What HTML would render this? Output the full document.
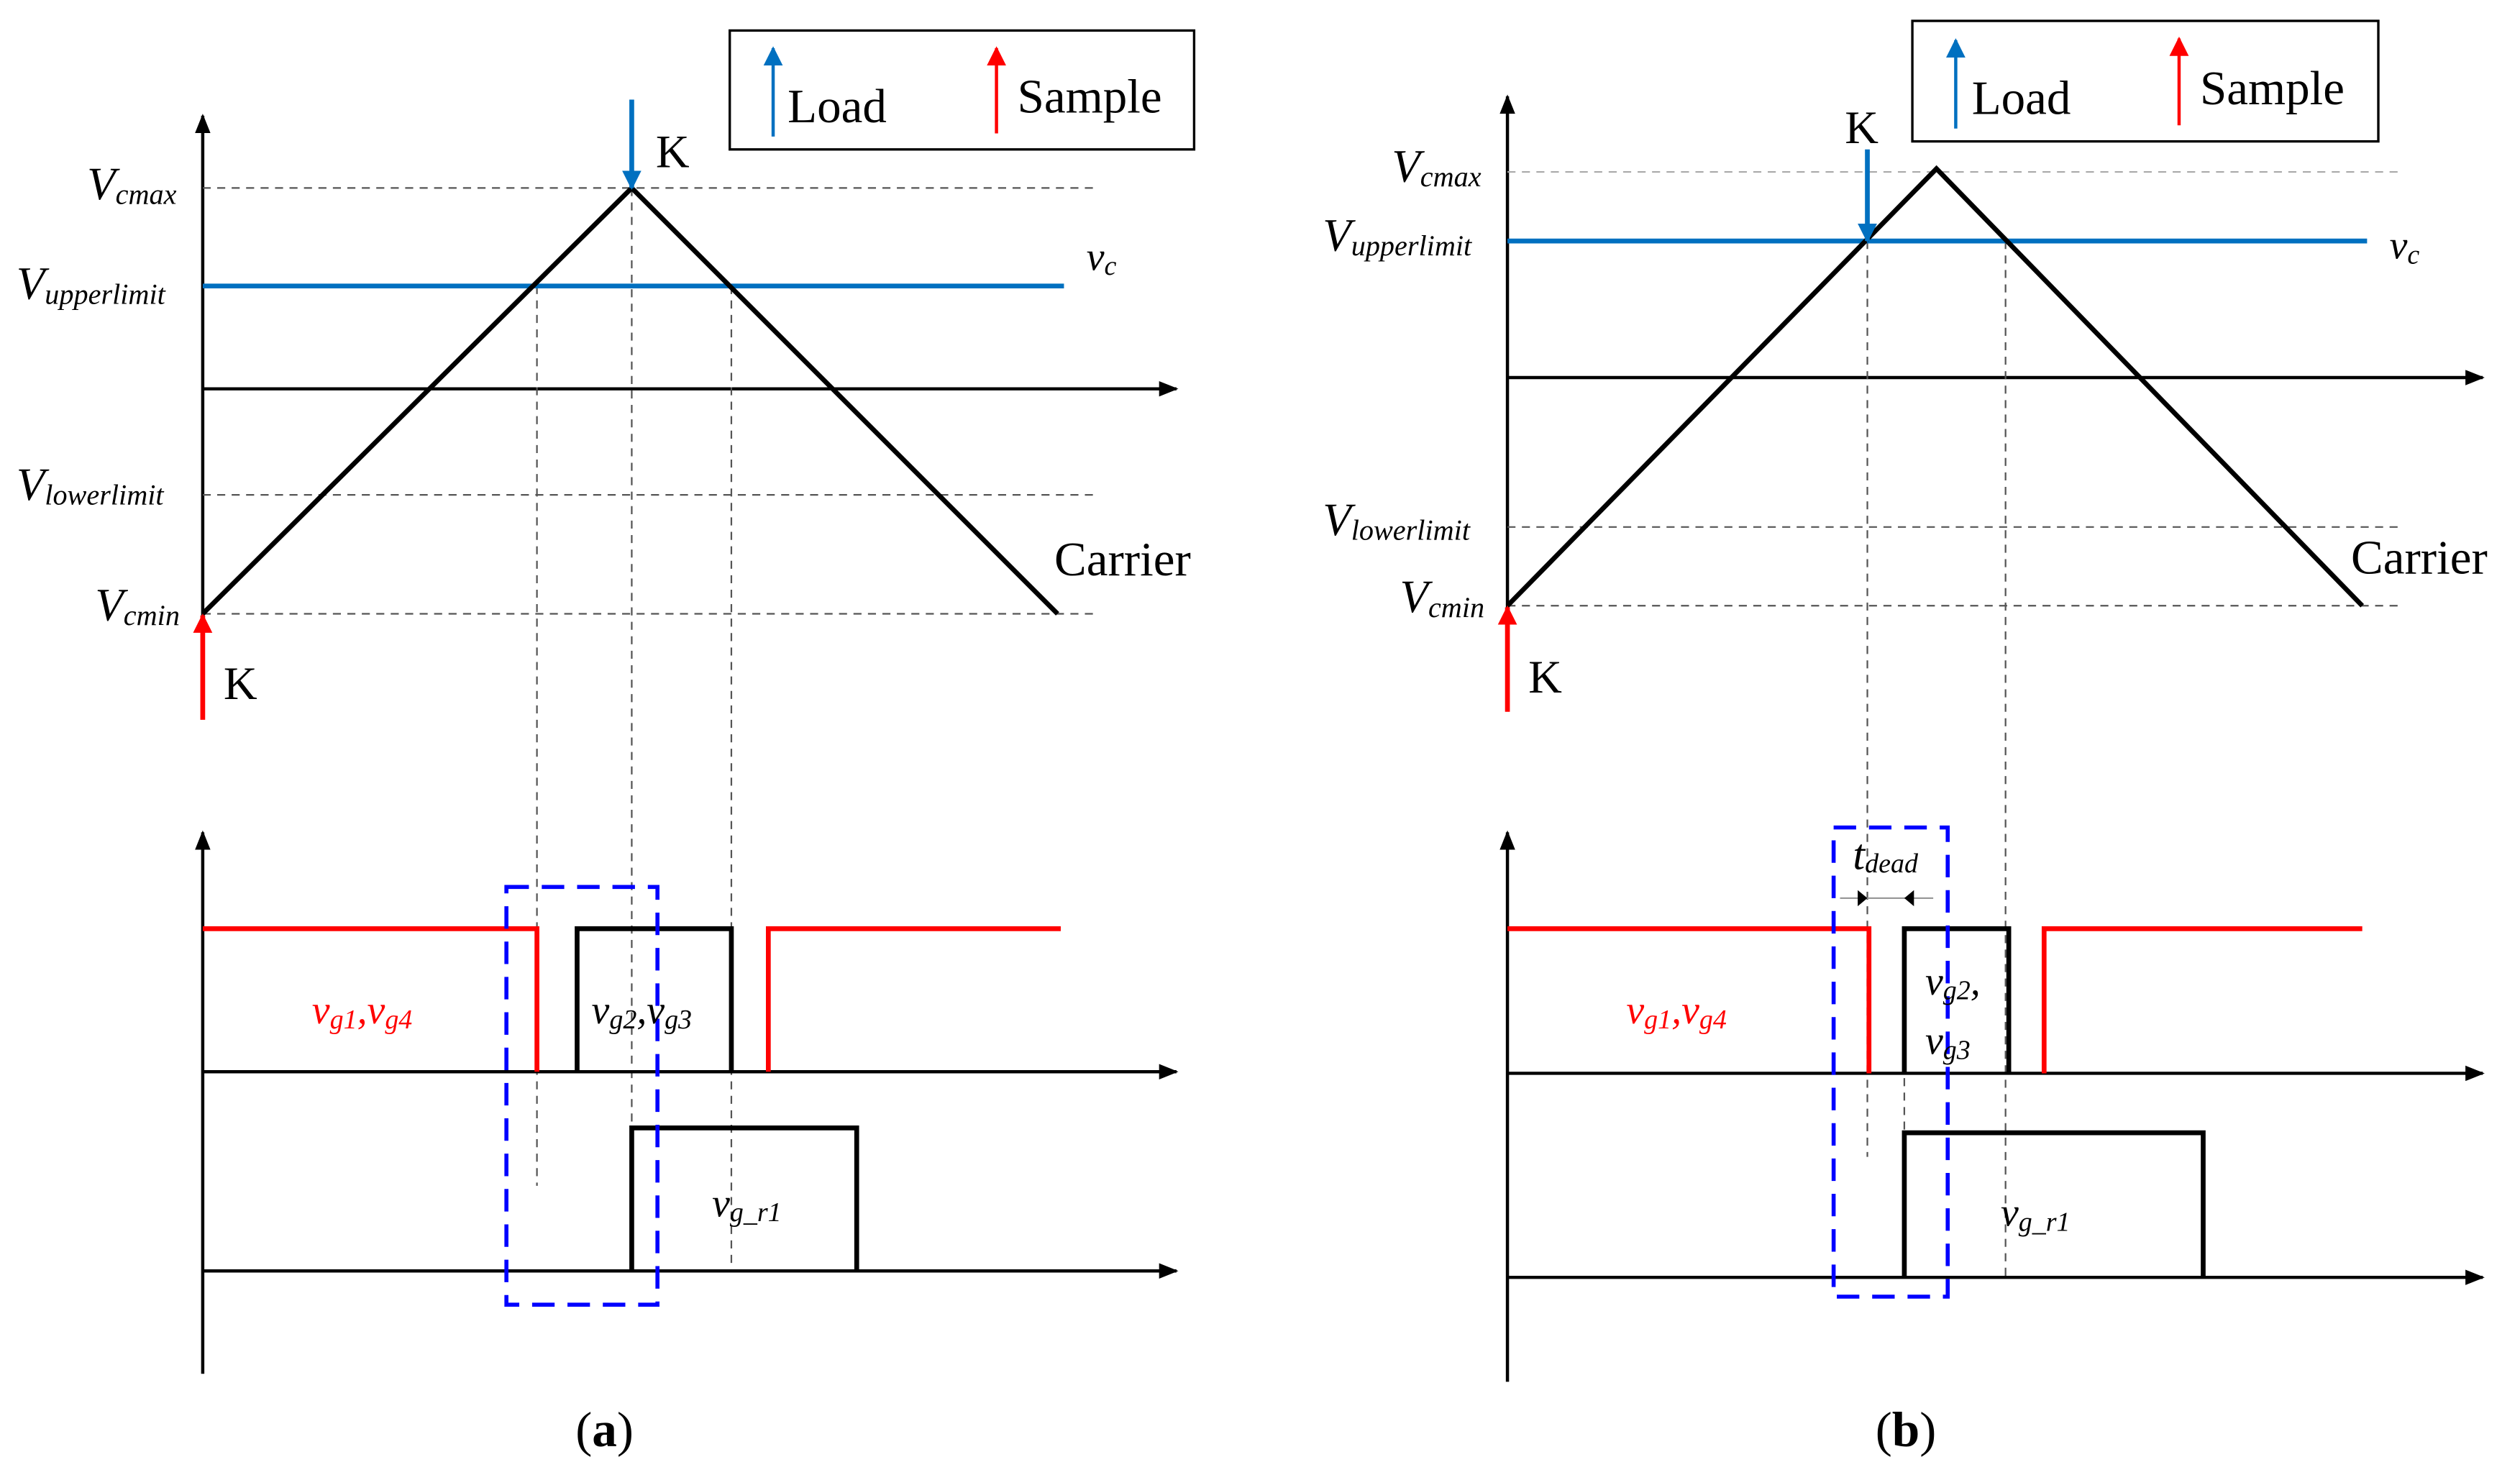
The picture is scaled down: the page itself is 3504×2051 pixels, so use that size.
<!DOCTYPE html>
<html><head><style>
html,body{margin:0;padding:0;background:#fff;}
svg{display:block;}
text{font-family:"Liberation Serif",serif;}
.v{font-style:italic;}
</style></head><body>
<svg width="3504" height="2051" viewBox="0 0 1568 918" xmlns="http://www.w3.org/2000/svg">
<defs>
<marker id="ab" viewBox="0 0 10 10" refX="9" refY="5" markerWidth="8" markerHeight="6" orient="auto"><path d="M0,1L10,5L0,9z" fill="#000"/></marker>
<marker id="ab2" viewBox="0 0 10 10" refX="9" refY="5" markerWidth="6" markerHeight="6" orient="auto"><path d="M0,0L10,5L0,10z" fill="#000"/></marker>
<marker id="ablue" viewBox="0 0 10 10" refX="9" refY="5" markerWidth="6" markerHeight="6" orient="auto"><path d="M0,0L10,5L0,10z" fill="#0070c0"/></marker>
<marker id="ablue2" viewBox="0 0 10 10" refX="9" refY="5" markerWidth="4" markerHeight="4.5" orient="auto"><path d="M0,0L10,5L0,10z" fill="#0070c0"/></marker>
<marker id="ared" viewBox="0 0 10 10" refX="9" refY="5" markerWidth="6" markerHeight="6" orient="auto"><path d="M0,0L10,5L0,10z" fill="#f00"/></marker>
<marker id="ared2" viewBox="0 0 10 10" refX="9" refY="5" markerWidth="4" markerHeight="4.5" orient="auto"><path d="M0,0L10,5L0,10z" fill="#f00"/></marker>
</defs>

<!-- ===== Panel (a) ===== -->
<g>
<rect x="454" y="19" width="289" height="74" fill="none" stroke="#000" stroke-width="1.5"/>
<line x1="481" y1="85" x2="481" y2="30" stroke="#0070c0" stroke-width="2" marker-end="url(#ablue)"/>
<text x="490" y="76" font-size="30">Load</text>
<line x1="620" y1="83" x2="620" y2="30" stroke="#f00" stroke-width="2" marker-end="url(#ared)"/>
<text x="633" y="70" font-size="30">Sample</text>

<line x1="126" y1="383" x2="126" y2="72" stroke="#000" stroke-width="2" marker-end="url(#ab)"/>
<line x1="126" y1="242" x2="732" y2="242" stroke="#000" stroke-width="2" marker-end="url(#ab)"/>
<g stroke="#555" stroke-width="1" stroke-dasharray="5,4">
<line x1="126" y1="117" x2="680" y2="117"/>
<line x1="126" y1="308" x2="680" y2="308"/>
<line x1="126" y1="382" x2="680" y2="382"/>
<line x1="334" y1="178" x2="334" y2="738"/>
<line x1="393" y1="117" x2="393" y2="790"/>
<line x1="455" y1="178" x2="455" y2="790"/>
</g>
<line x1="126" y1="178" x2="662" y2="178" stroke="#0070c0" stroke-width="3"/>
<polyline points="126,382 393,117 658,382" fill="none" stroke="#000" stroke-width="3"/>
<line x1="393" y1="62" x2="393" y2="117" stroke="#0070c0" stroke-width="3" marker-end="url(#ablue2)"/>
<text x="408" y="104" font-size="29">K</text>
<line x1="126" y1="448" x2="126" y2="383" stroke="#f00" stroke-width="3" marker-end="url(#ared2)"/>
<text x="139" y="435" font-size="29">K</text>

<text x="54" y="124" font-size="29" class="v">V<tspan font-size="18" dy="3">cmax</tspan></text>
<text x="10" y="186" font-size="29" class="v">V<tspan font-size="18" dy="3">upperlimit</tspan></text>
<text x="10" y="311" font-size="29" class="v">V<tspan font-size="18" dy="3">lowerlimit</tspan></text>
<text x="59" y="386" font-size="29" class="v">V<tspan font-size="18" dy="3">cmin</tspan></text>
<text x="676" y="168" font-size="25" class="v">v<tspan font-size="17" dy="3">c</tspan></text>
<text x="656" y="358" font-size="30">Carrier</text>

<line x1="126" y1="855" x2="126" y2="518" stroke="#000" stroke-width="2" marker-end="url(#ab)"/>
<line x1="126" y1="667" x2="732" y2="667" stroke="#000" stroke-width="2" marker-end="url(#ab)"/>
<line x1="126" y1="791" x2="732" y2="791" stroke="#000" stroke-width="2" marker-end="url(#ab)"/>
<polyline points="126,578 334,578 334,667" fill="none" stroke="#f00" stroke-width="3"/>
<polyline points="478,667 478,578 660,578" fill="none" stroke="#f00" stroke-width="3"/>
<polyline points="359,667 359,578 455,578 455,667" fill="none" stroke="#000" stroke-width="3"/>
<polyline points="393,791 393,702 533,702 533,791" fill="none" stroke="#000" stroke-width="3"/>
<rect x="315" y="552" width="94" height="260" fill="none" stroke="#0000ff" stroke-width="2.5" stroke-dasharray="14,8"/>
<text x="194" y="637" font-size="25" class="v" fill="#f00">v<tspan font-size="17" dy="3">g1</tspan><tspan dy="-3">,v</tspan><tspan font-size="17" dy="3">g4</tspan></text>
<text x="368" y="637" font-size="25" class="v">v<tspan font-size="17" dy="3">g2</tspan><tspan dy="-3">,v</tspan><tspan font-size="17" dy="3">g3</tspan></text>
<text x="443" y="757" font-size="25" class="v">v<tspan font-size="17" dy="3">g_r1</tspan></text>
<text x="358" y="900" font-size="31">(<tspan font-weight="bold">a</tspan>)</text>
</g>

<!-- ===== Panel (b) ===== -->
<g>
<rect x="1190" y="13" width="290" height="75" fill="none" stroke="#000" stroke-width="1.5"/>
<line x1="1217" y1="80" x2="1217" y2="25" stroke="#0070c0" stroke-width="2" marker-end="url(#ablue)"/>
<text x="1227" y="71" font-size="30">Load</text>
<line x1="1356" y1="78" x2="1356" y2="24" stroke="#f00" stroke-width="2" marker-end="url(#ared)"/>
<text x="1369" y="65" font-size="30">Sample</text>

<line x1="938" y1="378" x2="938" y2="60" stroke="#000" stroke-width="2" marker-end="url(#ab)"/>
<line x1="938" y1="235" x2="1545" y2="235" stroke="#000" stroke-width="2" marker-end="url(#ab)"/>
<line x1="938" y1="107" x2="1493" y2="107" stroke="#aaa" stroke-width="1" stroke-dasharray="5,4"/>
<g stroke="#555" stroke-width="1" stroke-dasharray="5,4">
<line x1="938" y1="328" x2="1493" y2="328"/>
<line x1="938" y1="377" x2="1493" y2="377"/>
<line x1="1162" y1="150" x2="1162" y2="720"/>
<line x1="1248" y1="150" x2="1248" y2="795"/>
<line x1="1185" y1="590" x2="1185" y2="795"/>
</g>
<line x1="938" y1="150" x2="1473" y2="150" stroke="#0070c0" stroke-width="3"/>
<polyline points="938,377 1205,105 1470,377" fill="none" stroke="#000" stroke-width="3"/>
<line x1="1162" y1="93" x2="1162" y2="150" stroke="#0070c0" stroke-width="3" marker-end="url(#ablue2)"/>
<text x="1148" y="89" font-size="29">K</text>
<line x1="938" y1="443" x2="938" y2="378" stroke="#f00" stroke-width="3" marker-end="url(#ared2)"/>
<text x="951" y="431" font-size="29">K</text>

<text x="866" y="113" font-size="29" class="v">V<tspan font-size="18" dy="3">cmax</tspan></text>
<text x="823" y="156" font-size="29" class="v">V<tspan font-size="18" dy="3">upperlimit</tspan></text>
<text x="823" y="333" font-size="29" class="v">V<tspan font-size="18" dy="3">lowerlimit</tspan></text>
<text x="871" y="381" font-size="29" class="v">V<tspan font-size="18" dy="3">cmin</tspan></text>
<text x="1487" y="161" font-size="25" class="v">v<tspan font-size="17" dy="3">c</tspan></text>
<text x="1463" y="357" font-size="30">Carrier</text>

<line x1="938" y1="860" x2="938" y2="518" stroke="#000" stroke-width="2" marker-end="url(#ab)"/>
<line x1="938" y1="668" x2="1545" y2="668" stroke="#000" stroke-width="2" marker-end="url(#ab)"/>
<line x1="938" y1="795" x2="1545" y2="795" stroke="#000" stroke-width="2" marker-end="url(#ab)"/>
<polyline points="938,578 1163,578 1163,668" fill="none" stroke="#f00" stroke-width="3"/>
<polyline points="1272,668 1272,578 1470,578" fill="none" stroke="#f00" stroke-width="3"/>
<polyline points="1185,668 1185,578 1250,578 1250,668" fill="none" stroke="#000" stroke-width="3"/>
<polyline points="1185,795 1185,705 1371,705 1371,795" fill="none" stroke="#000" stroke-width="3"/>
<rect x="1141" y="515" width="71" height="292" fill="none" stroke="#0000ff" stroke-width="2.5" stroke-dasharray="14,8"/>
<line x1="1145" y1="559" x2="1203" y2="559" stroke="#999" stroke-width="1"/>
<path d="M1156,554L1162,559L1156,564z M1191,554L1185,559L1191,564z" fill="#000"/>
<text x="1153" y="541" font-size="27" class="v">t<tspan font-size="17" dy="2">dead</tspan></text>
<text x="1012" y="637" font-size="25" class="v" fill="#f00">v<tspan font-size="17" dy="3">g1</tspan><tspan dy="-3">,v</tspan><tspan font-size="17" dy="3">g4</tspan></text>
<text x="1198" y="619" font-size="25" class="v">v<tspan font-size="17" dy="3">g2</tspan><tspan dy="-3">,</tspan></text>
<text x="1198" y="656" font-size="25" class="v">v<tspan font-size="17" dy="3">g3</tspan></text>
<text x="1245" y="763" font-size="25" class="v">v<tspan font-size="17" dy="3">g_r1</tspan></text>
<text x="1167" y="900" font-size="31">(<tspan font-weight="bold">b</tspan>)</text>
</g>
</svg>
</body></html>
